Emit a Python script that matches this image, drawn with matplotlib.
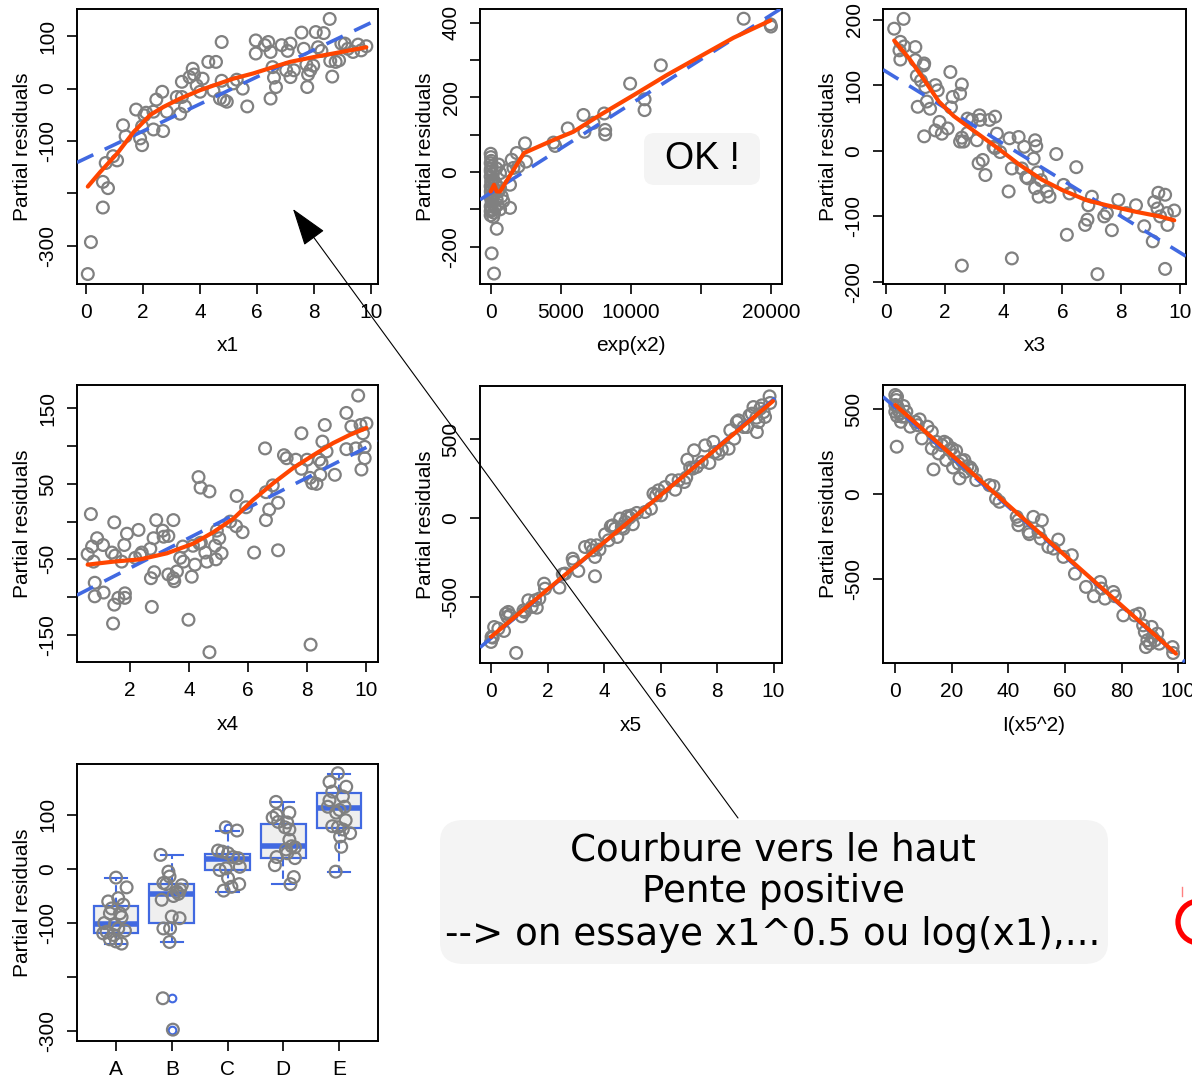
import matplotlib
matplotlib.use("Agg")
import matplotlib.pyplot as plt
from matplotlib.patches import FancyBboxPatch, FancyArrowPatch, Ellipse
from matplotlib.lines import Line2D

plt.rcParams['font.family'] = ['Liberation Sans', 'DejaVu Sans']

W, H = 1192, 1080

# ---- component + residual data -------------------------------------------
x1_pts = [(0.05,-354),(0.16,-293),(0.58,-227),(0.58,-178),(0.76,-190),(0.68,-142),(0.94,-129),
          (1.08,-137),(1.29,-70),(1.38,-91),(1.75,-40),(1.89,-95),(1.96,-108),(1.96,-72),(2.04,-51),
          (2.10,-46),(2.36,-78),(2.36,-44),(2.46,-21),(2.67,-6),(2.70,-81),(2.83,-44),(3.18,-16),
          (3.30,-48),(3.36,13),(3.36,-16),(3.47,-34),(3.63,22),(3.74,38),(3.79,27),(3.88,6),(4.00,-6),
          (4.09,19),(4.29,51),(4.56,51),(4.47,-4),(4.70,-19),(4.76,89),(4.76,15),(4.84,-22),(4.94,-25),
          (5.17,10),(5.29,17),(5.50,0),(5.66,-34),(5.96,92),(5.96,67),(6.28,83),(6.40,89),(6.48,70),
          (6.48,-19),(6.55,41),(6.60,21),(6.67,3),(6.87,83),(7.03,35),(7.08,72),(7.18,86),(7.18,22),
          (7.30,35),(7.57,107),(7.65,76),(7.74,46),(7.77,3),(7.80,27),(7.88,35),(7.98,44),(8.07,108),
          (8.15,79),(8.27,72),(8.35,106),(8.56,133),(8.58,53),(8.65,23),(8.77,51),(8.89,54),(8.97,86),
          (9.09,86),(9.20,76),(9.38,70),(9.56,84),(9.85,81),(9.67,73)]
x1_fit = (-132.5, 25.8)
x1_smooth = [(0.05,-187),(0.49,-159),(1.08,-124),(1.66,-83),(2.25,-50),(2.71,-35),(3.3,-19),
             (4.0,-3),(4.58,8),(5.17,19),(5.87,29),(6.57,41),(7.16,51),(7.98,60),(8.68,67),
             (9.26,73),(9.85,79)]

x2_pts = [(0,49),(0,24),(70,15),(5,2),(0,-12),(190,-20),(0,-38),(5,-52),(0,-65),(70,-78),(0,-92),
          (0,-105),(0,-116),(240,-109),(430,-74),(550,-52),(670,-43),(570,20),(670,-3),(790,-65),
          (670,-100),(70,-218),(240,-272),(430,-152),(900,-78),(1100,4),(1380,-34),(1380,-96),
          (1500,33),(1620,11),(1860,51),(1980,15),(2450,77),(2520,28),(20,40),(40,30),(10,8),
          (150,-5),(30,-25),(100,-30),(60,-45),(200,-60),(15,-70),(120,-85),(300,-95),(50,-100),
          (180,-120),(350,-30),(400,10),(260,-45),(90,-60),(500,-88),(4480,79),(4600,70),
          (5500,117),(6620,153),(6690,108),(7330,132),(8100,157),(8170,113),(8170,101),(9950,237),
          (10980,195),(10980,166),(12140,286),(18050,411),(19950,396),(20000,390)]
x2_fit = (-56.0, 0.02385)
x2_smooth = [(0,-52),(240,-34),(430,-52),(670,-52),(2380,51),(4480,86),(5900,108),(7810,153),
             (10190,206),(12570,260),(14950,310),(17330,360),(19950,406)]

x3_pts = [(0.28,186),(0.60,201),(0.49,166),(0.46,153),(0.49,139),(0.62,159),(1.0,158),(1.0,138),
          (1.05,114),(1.08,67),(1.19,107),(1.28,130),(1.30,133),(1.34,97),(1.39,75),(1.50,64),
          (1.30,22),(1.68,100),(1.76,92),(1.82,44),(1.68,31),(1.90,26),(2.10,34),(2.19,120),
          (2.21,66),(2.27,82),(2.52,87),(2.58,101),(2.52,14),(2.58,20),(2.64,14),(2.58,-175),
          (2.77,49),(2.77,27),(2.92,47),(3.09,16),(3.18,54),(3.15,-19),(3.20,47),(3.29,-14),
          (3.38,-37),(3.52,47),(3.71,52),(3.66,6),(3.71,4),(3.77,26),(3.88,-2),(4.17,-62),
          (4.20,19),(4.28,-27),(4.28,-164),(4.51,21),(4.62,-27),(4.70,6),(4.77,-40),(4.82,-42),
          (5.02,-12),(5.07,16),(5.11,7),(5.07,-57),(5.15,-33),(5.19,-70),(5.27,-45),(5.47,-62),
          (5.56,-70),(5.79,-5),(6.04,-52),(6.15,-128),(6.24,-65),(6.47,-25),(6.77,-113),
          (6.85,-105),(6.88,-83),(7.0,-70),(7.19,-188),(7.42,-100),(7.51,-95),(7.68,-121),
          (7.90,-75),(8.17,-95),(8.50,-83),(8.78,-115),(9.07,-138),(9.12,-78),(9.26,-64),
          (9.23,-88),(9.32,-100),(9.49,-67),(9.49,-180),(9.55,-95),(9.57,-113),(9.80,-91)]
x3_fit = (120.8, -27.6)
x3_smooth = [(0.28,168),(0.8,140),(1.3,108),(1.8,75),(2.3,53),(3.0,30),(3.8,4),(4.5,-20),
             (5.3,-44),(6.0,-60),(6.8,-75),(7.5,-83),(8.5,-93),(9.3,-100),(9.8,-106)]

x4_pts = [(0.68,10),(0.57,-43),(0.72,-33),(0.89,-22),(0.77,-53),(0.81,-81),(0.81,-99),(1.09,-31),
          (1.11,-94),(1.39,-41),(1.47,-1),(1.50,-45),(1.47,-110),(1.43,-135),(1.61,-101),
          (1.72,-53),(1.81,-31),(1.83,-95),(1.83,-101),(1.90,-16),(2.18,-48),(2.29,-11),
          (2.35,-44),(2.40,-41),(2.69,-36),(2.71,-75),(2.74,-113),(2.80,-22),(2.82,-67),(2.89,2),
          (3.11,-12),(3.14,-20),(3.30,-19),(3.30,-70),(3.47,2),(3.47,-75),(3.50,-79),(3.59,-66),
          (3.70,-48),(3.79,-33),(3.81,-53),(3.98,-130),(4.09,-73),(4.13,-32),(4.20,-57),(4.32,59),
          (4.35,-29),(4.39,45),(4.40,-28),(4.55,-41),(4.60,-53),(4.69,40),(4.69,-173),(4.88,-32),
          (4.91,-50),(4.94,-12),(5.02,-22),(5.10,-42),(5.39,0),(5.59,-6),(5.61,34),(5.81,-14),
          (5.93,19),(6.20,-41),(6.57,97),(6.60,2),(6.60,39),(6.71,16),(6.83,48),(7.01,-38),
          (7.01,25),(7.21,88),(7.30,84),(7.61,82),(7.80,117),(7.80,70),(7.99,82),(8.09,58),
          (8.11,-163),(8.17,51),(8.31,50),(8.40,82),(8.44,62),(8.48,78),(8.51,106),(8.59,128),
          (8.65,93),(8.93,62),(9.32,144),(9.32,96),(9.49,126),(9.64,97),(9.72,167),(9.80,128),
          (9.83,69),(9.88,117),(9.94,84),(9.94,99),(10.0,130)]
x4_fit = (-101.6, 20.0)
x4_smooth = [(0.57,-57),(1.45,-53),(2.35,-50),(3.25,-42),(4.15,-29),(4.82,-14),(5.5,4),
             (6.17,29),(6.85,51),(7.52,71),(8.2,88),(8.87,104),(9.44,115),(10.0,124)]

x5_pts = [(0.02,-757),(0.0,-789),(0.06,-761),(0.11,-694),(0.26,-704),(0.46,-719),(0.53,-609),
          (0.58,-630),(0.61,-598),(0.67,-619),(0.89,-859),(1.09,-626),(1.15,-588),(1.20,-598),
          (1.32,-524),(1.44,-566),(1.56,-524),(1.62,-571),(1.71,-513),(1.88,-418),(1.91,-450),
          (2.42,-443),(2.54,-358),(2.62,-354),(2.89,-259),(2.92,-280),(3.09,-337),(3.33,-185),
          (3.53,-174),(3.60,-206),(3.68,-248),(3.68,-371),(3.74,-174),(3.84,-201),(4.04,-104),
          (4.16,-142),(4.24,-53),(4.31,-47),(4.39,-68),(4.47,-121),(4.57,-4),(4.63,-57),
          (4.69,-68),(4.75,-25),(4.83,11),(4.90,2),(4.98,17),(5.02,-40),(5.16,32),(5.45,38),
          (5.66,59),(5.75,155),(5.84,144),(5.93,176),(6.02,144),(6.16,197),(6.40,240),(6.52,180),
          (6.64,240),(6.84,229),(6.91,257),(6.95,371),(7.05,320),(7.14,314),(7.19,431),(7.28,325),
          (7.46,356),(7.58,462),(7.73,350),(7.87,484),(7.93,420),(8.05,409),(8.17,435),(8.41,441),
          (8.47,558),(8.61,505),(8.70,611),(8.76,621),(8.94,579),(9.06,579),(9.15,653),(9.23,664),
          (9.29,706),(9.39,638),(9.41,547),(9.47,611),(9.53,696),(9.59,717),(9.65,674),(9.70,643),
          (9.86,774),(9.88,732)]
x5_fit = (-765.0, 152.0)
x5_smooth = [(0.0,-757),(2.5,-380),(5.0,-5),(7.5,370),(9.98,744)]

x5sq_pts = [(0,585),(0.6,575),(0.35,555),(0,526),(0.8,516),(1.2,492),(0,486),(1.8,476),(0.6,461),
            (0.5,280),(2.9,520),(3.9,486),(2.4,457),(2.0,427),(3.5,457),(5.3,398),(7.1,427),
            (8.6,441),(7.9,407),(9.4,329),(11.4,398),(12.9,368),(13.5,146),(12.9,270),(14.5,309),
            (15.3,240),(16.5,289),(17.3,309),(18.2,299),(18.0,201),(19.2,260),(20.0,270),
            (20.8,230),(21.5,256),(20.4,157),(22.4,181),(22.7,93),(23.5,197),(24.4,201),(24.7,132),
            (25.5,165),(26.5,157),(27.1,142),(28.6,83),(33.3,53),(34.7,47),(35.6,-26),(36.8,-45),
            (42.9,-134),(43.5,-154),(43.5,-183),(47.1,-222),(47.4,-236),(48.8,-134),(50.6,-222),
            (51.8,-154),(51.4,-262),(54.1,-311),(55.9,-321),(57.6,-268),(59.4,-370),(62.4,-360),
            (63.5,-469),(67.4,-547),(70.2,-602),(72.4,-518),(72.9,-557),(74.1,-616),(77.1,-577),
            (77.6,-602),(80.6,-715),(84.7,-715),(86.2,-705),(87.6,-774),(88.2,-813),(88.6,-902),
            (89.1,-862),(90.0,-882),(90.6,-783),(90.9,-843),(91.8,-862),(92.6,-823),(93.3,-882),
            (98.0,-902),(98.2,-937)]
x5sq_fit = (511.0, -14.66)
x5sq_smooth = [(0,526),(25,156),(50,-214),(75,-583),(99.2,-941)]

# factor term
groups = ['A', 'B', 'C', 'D', 'E']
grp_pts = [(1.0,-16),(1.19,-34),(0.86,-60),(1.04,-54),(1.13,-66),(0.92,-73),(0.89,-82),(1.07,-82),
           (1.10,-89),(0.79,-100),(0.98,-103),(1.16,-114),(0.83,-116),(0.95,-122),(0.77,-119),
           (0.89,-130),(1.0,-134),(1.10,-138),(1.04,-110),
           (1.80,26),(1.94,-5),(1.96,-14),(1.85,-26),(1.90,-28),(2.18,-30),(2.15,-38),(2.09,-42),
           (2.03,-50),(2.12,-46),(1.82,-57),(2.0,-88),(2.14,-91),(1.85,-110),(1.97,-110),
           (1.96,-135),(1.84,-239),(2.02,-297),
           (2.97,77),(3.17,71),(2.83,34),(2.91,32),(3.01,29),(3.10,22),(3.19,20),(3.22,4),
           (2.86,-2),(2.97,1),(3.01,-17),(3.07,-33),(3.21,-28),(2.93,-40),
           (3.87,124),(4.11,104),(3.88,100),(3.81,95),(3.91,87),(4.07,86),(4.03,77),(4.11,73),
           (4.11,54),(4.15,42),(4.05,36),(4.07,29),(4.21,40),(3.88,22),(4.21,20),(3.85,7),
           (4.19,-15),(4.13,-28),
           (4.98,177),(4.83,161),(5.13,152),(4.88,143),(5.07,134),(4.83,127),(4.80,115),(5.01,109),
           (5.10,115),(4.95,104),(5.12,90),(4.88,79),(4.98,77),(5.07,73),(5.20,66),(5.02,60),
           (5.04,41),(4.94,-5)]
box_lo = [-138, -135, -42, -28, -6]
box_q1 = [-119, -100, -2, 21, 75]
box_med = [-102, -47, 18, 42, 112]
box_q3 = [-68, -28, 28, 83, 140]
box_hi = [-17, 25, 71, 124, 175]
box_out = [[], [-239, -297], [75], [], []]

# ---- styling ---------------------------------------------------------------
GRAY = '#808080'
RED = '#FF4500'
BLUE = '#4169E1'

fig = plt.figure(figsize=(W / 100, H / 100), dpi=100)


def panel(l, t, r, b):
    ax = fig.add_axes([l / W, 1 - b / H, (r - l) / W, (b - t) / H])
    for s in ax.spines.values():
        s.set_linewidth(1.4)
        s.set_color('black')
    ax.tick_params(direction='out', length=7, width=1.2, labelsize=15, pad=7,
                   colors='black')
    ax.tick_params(axis='y', labelrotation=90)
    return ax


def finish(ax, xlim, ylim, xt, xtl, yt, ytl, xlabel):
    ax.set_xlim(*xlim)
    ax.set_ylim(*ylim)
    ax.set_xticks(xt)
    ax.set_xticklabels(xtl)
    ax.set_yticks(yt)
    ax.set_yticklabels(ytl, va='center')
    ax.set_ylabel('Partial residuals', fontsize=15)
    ax.yaxis.set_label_coords(-0.148, 0.5)
    if xlabel:
        ax.set_xlabel(xlabel, fontsize=15)
        ax.xaxis.set_label_coords(0.5, -0.19)


def crplot(ax, pts, fit, smooth):
    xs = [p[0] for p in pts]
    ys = [p[1] for p in pts]
    ax.scatter(xs, ys, s=72, facecolors='none', edgecolors=GRAY, linewidths=1.6, zorder=2)
    ax.axline((0, fit[0]), slope=fit[1], color=BLUE, lw=2.6, dashes=(5, 3.5), zorder=3)
    ax.plot([p[0] for p in smooth], [p[1] for p in smooth], color=RED, lw=3.0,
            solid_capstyle='round', solid_joinstyle='round', zorder=4)


def lab(vals):
    return [str(v) for v in vals]


ax1 = panel(77, 9, 378, 284)
crplot(ax1, x1_pts, x1_fit, x1_smooth)
finish(ax1, (-0.33, 10.26), (-373, 152), range(0, 11, 2), lab(range(0, 11, 2)),
       [-300, -200, -100, 0, 100], ['-300', '', '-100', '0', '100'], 'x1')

ax2 = panel(480, 9, 782, 284)
crplot(ax2, x2_pts, x2_fit, x2_smooth)
finish(ax2, (-762, 20786), (-300, 437), [0, 5000, 10000, 15000, 20000],
       ['0', '5000', '10000', '', '20000'],
       [-200, -100, 0, 100, 200, 300, 400], ['-200', '', '0', '', '200', '', '400'], 'exp(x2)')

ax3 = panel(883, 9, 1186, 284)
crplot(ax3, x3_pts, x3_fit, x3_smooth)
finish(ax3, (-0.1, 10.2), (-203, 216), range(0, 11, 2), lab(range(0, 11, 2)),
       [-200, -100, 0, 100, 200], lab([-200, -100, 0, 100, 200]), 'x3')

ax4 = panel(77, 385, 378, 662)
crplot(ax4, x4_pts, x4_fit, x4_smooth)
finish(ax4, (0.21, 10.39), (-186, 181), [2, 4, 6, 8, 10], lab([2, 4, 6, 8, 10]),
       [-150, -100, -50, 0, 50, 100, 150], ['-150', '', '-50', '', '50', '', '150'], 'x4')

ax5 = panel(480, 386, 782, 663)
crplot(ax5, x5_pts, x5_fit, x5_smooth)
finish(ax5, (-0.39, 10.3), (-923, 840), range(0, 11, 2), lab(range(0, 11, 2)),
       [-500, 0, 500], lab([-500, 0, 500]), 'x5')

ax6 = panel(883, 385, 1185, 663)
crplot(ax6, x5sq_pts, x5sq_fit, x5sq_smooth)
finish(ax6, (-4.35, 102.4), (-996, 644), range(0, 101, 20), lab(range(0, 101, 20)),
       [-500, 0, 500], lab([-500, 0, 500]), 'I(x5^2)')

ax7 = panel(77, 764, 378, 1041)
stats = []
for i, g in enumerate(groups):
    stats.append(dict(label=g, whislo=box_lo[i], q1=box_q1[i], med=box_med[i],
                      q3=box_q3[i], whishi=box_hi[i], fliers=box_out[i]))
ax7.bxp(stats, positions=[1, 2, 3, 4, 5], widths=0.8, capwidths=0.4, patch_artist=True,
        boxprops=dict(facecolor='#efefef', edgecolor=BLUE, linewidth=1.6),
        medianprops=dict(color=BLUE, linewidth=4.0, solid_capstyle='butt'),
        whiskerprops=dict(color=BLUE, linewidth=1.5, linestyle=(0, (4, 2))),
        capprops=dict(color=BLUE, linewidth=1.5),
        flierprops=dict(marker='o', markerfacecolor='none', markeredgecolor=BLUE,
                        markersize=5.5, markeredgewidth=1.5),
        manage_ticks=False, zorder=2)
ax7.scatter([p[0] for p in grp_pts], [p[1] for p in grp_pts], s=72, facecolors='none',
            edgecolors=GRAY, linewidths=1.6, zorder=4)
finish(ax7, (0.3, 5.7), (-318, 194), [1, 2, 3, 4, 5], groups,
       [-300, -200, -100, 0, 100], ['-300', '', '-100', '0', '100'], None)

# ---- annotations -----------------------------------------------------------
def fx(px):
    return px / W


def fy(py):
    return 1 - py / H


ok_box = FancyBboxPatch((fx(644), fy(185)), 116 / W, 52 / H,
                        boxstyle='round,pad=0,rounding_size=0.009',
                        transform=fig.transFigure, fc='#f4f4f4', ec='none', zorder=5)
fig.add_artist(ok_box)
fig.text(fx(702), fy(159), 'OK !', ha='center', va='center', fontsize=27, zorder=6)

note_box = FancyBboxPatch((fx(440), fy(964)), 668 / W, 144 / H,
                          boxstyle='round,pad=0,rounding_size=0.02',
                          transform=fig.transFigure, fc='#f4f4f4', ec='none', zorder=5)
fig.add_artist(note_box)
fig.text(fx(773), fy(892),
         'Courbure vers le haut\nPente positive\n--> on essaye x1^0.5 ou log(x1),...',
         ha='center', va='center', fontsize=26.8, family='DejaVu Sans',
         linespacing=1.18, zorder=6)

arrow = FancyArrowPatch(posA=(fx(738), fy(818)), posB=(fx(293), fy(209)),
                        transform=fig.transFigure,
                        arrowstyle='-|>,head_length=1.2,head_width=0.4',
                        mutation_scale=20, lw=0.8, color='black',
                        shrinkA=0, shrinkB=0, zorder=7)
fig.add_artist(arrow)

fig.add_artist(Ellipse((fx(1199), fy(922)), 42 / W, 42 / H, transform=fig.transFigure,
                       fill=False, ec='#ff0000', lw=3.8, zorder=6))
fig.add_artist(Line2D([fx(1182), fx(1182)], [fy(887), fy(896)], transform=fig.transFigure,
                      color='#ff8080', lw=1.0, zorder=6))

fig.savefig('out.png', dpi=100)
